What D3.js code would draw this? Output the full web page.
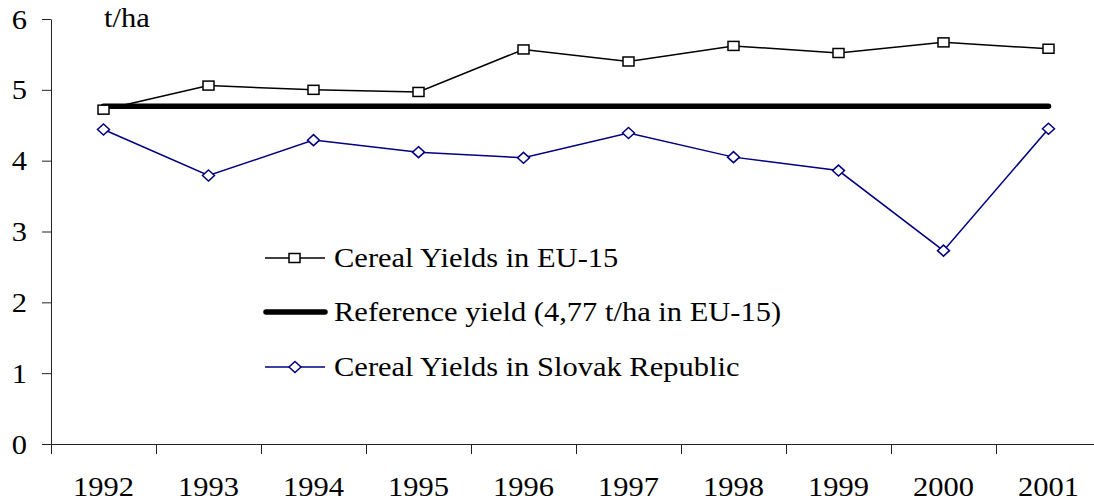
<!DOCTYPE html>
<html>
<head>
<meta charset="utf-8">
<script src="https://cdn.jsdelivr.net/npm/d3@7"></script>
<style>
  body { margin: 0; background: #fff; }
  text { font-family: "Liberation Serif", "Times New Roman", serif; fill: #000; }
</style>
</head>
<body>
<script>
var w = 1094;
var h = 502;

// data
var years = ["1992", "1993", "1994", "1995", "1996", "1997", "1998", "1999", "2000", "2001"];
var euYields = [4.72, 5.06, 5.0, 4.97, 5.57, 5.4, 5.62, 5.52, 5.67, 5.58];
var skYields = [4.44, 3.79, 4.29, 4.12, 4.04, 4.39, 4.05, 3.86, 2.73, 4.45];
var refYields = [4.77, 4.77, 4.77, 4.77, 4.77, 4.77, 4.77, 4.77, 4.77, 4.77];
var yTicks = [0, 1, 2, 3, 4, 5, 6];
var legendLabels = ["Cereal Yields in EU-15", "Reference yield (4,77 t/ha in EU-15)", "Cereal Yields in Slovak Republic"];

var fs = 27;
var sx = 1.13;

var svg = d3.select("body").append("svg")
    .attr("width", w)
    .attr("height", h);

var x = d3.scaleBand().domain(years).range([51, 1101]);
var xEdge = d3.scaleLinear().domain([0, years.length]).range([51, 1101]);
var y = d3.scaleLinear().domain([0, 6]).range([444, 19]);

// y axis
var yAxis = svg.append("g")
    .attr("transform", "translate(51,0)")
    .call(d3.axisLeft(y).tickValues(yTicks).tickFormat(d3.format("d"))
        .tickSize(9).tickSizeOuter(0).tickPadding(0));
yAxis.selectAll("text")
    .attr("x", -24 / sx)
    .attr("dy", null)
    .attr("y", 9)
    .attr("transform", "scale(" + sx + ",1)")
    .style("font-size", fs + "px")
    .style("font-family", "Liberation Serif");

// x axis tick marks at band edges
svg.append("g")
    .attr("transform", "translate(0,444)")
    .call(d3.axisBottom(xEdge).ticks(years.length).tickSize(10).tickSizeOuter(0).tickFormat(""));

// x labels at band centres
var xAxis = svg.append("g")
    .attr("transform", "translate(0,444)")
    .call(d3.axisBottom(x).tickSize(0));
xAxis.select(".domain").remove();
xAxis.selectAll("text")
    .attr("dy", null)
    .attr("y", 52)
    .attr("transform", "scale(" + sx + ",1)")
    .attr("x", 0)
    .style("font-size", fs + "px")
    .style("font-family", "Liberation Serif");

svg.selectAll(".domain, .tick line").attr("stroke", "#222");

// unit label
svg.append("text")
    .attr("transform", "translate(104,27) scale(" + sx + ",1)")
    .style("font-size", fs + "px")
    .text("t/ha");

var cx = function(d, i) { return x(years[i]) + x.bandwidth() / 2; };
var line = d3.line().x(cx).y(function(d) { return y(d); });

// reference line
svg.append("path")
    .datum(refYields)
    .attr("d", line)
    .attr("fill", "none")
    .attr("stroke", "#000")
    .attr("stroke-width", 5.5)
    .attr("stroke-linecap", "round");

// slovak series
svg.append("path")
    .datum(skYields)
    .attr("d", line)
    .attr("fill", "none")
    .attr("stroke", "#000080")
    .attr("stroke-width", 1.5);

svg.selectAll(".sk")
    .data(skYields)
    .enter().append("path")
    .attr("transform", function(d, i) { return "translate(" + cx(d, i) + "," + y(d) + ")"; })
    .attr("d", "M0,-5.5L6,0L0,5.5L-6,0Z")
    .attr("fill", "#fff")
    .attr("stroke", "#000080")
    .attr("stroke-width", 1.5);

// EU series
svg.append("path")
    .datum(euYields)
    .attr("d", line)
    .attr("fill", "none")
    .attr("stroke", "#000")
    .attr("stroke-width", 1.5);

svg.selectAll(".eu")
    .data(euYields)
    .enter().append("rect")
    .attr("x", function(d, i) { return cx(d, i) - 5.5; })
    .attr("y", function(d) { return y(d) - 4.5; })
    .attr("width", 11)
    .attr("height", 9)
    .attr("fill", "#fff")
    .attr("stroke", "#000")
    .attr("stroke-width", 1.5);

// legend
var legY = [258, 312, 367];
var leg = svg.append("g");

leg.append("line").attr("x1", 265).attr("x2", 325).attr("y1", legY[0]).attr("y2", legY[0])
    .attr("stroke", "#000").attr("stroke-width", 1.5);
leg.append("rect").attr("x", 289).attr("y", legY[0] - 4.5).attr("width", 11).attr("height", 9)
    .attr("fill", "#fff").attr("stroke", "#000").attr("stroke-width", 1.5);

leg.append("line").attr("x1", 266).attr("x2", 325).attr("y1", legY[1]).attr("y2", legY[1])
    .attr("stroke", "#000").attr("stroke-width", 5.5).attr("stroke-linecap", "round");

leg.append("line").attr("x1", 265).attr("x2", 325).attr("y1", legY[2]).attr("y2", legY[2])
    .attr("stroke", "#000080").attr("stroke-width", 1.5);
leg.append("path").attr("transform", "translate(295," + legY[2] + ")")
    .attr("d", "M0,-5.5L6,0L0,5.5L-6,0Z")
    .attr("fill", "#fff").attr("stroke", "#000080").attr("stroke-width", 1.5);

legendLabels.forEach(function(t, i) {
    leg.append("text")
        .attr("transform", "translate(334," + (legY[i] + 9) + ") scale(" + sx + ",1)")
        .style("font-size", fs + "px")
        .text(t);
});
</script>
</body>
</html>
